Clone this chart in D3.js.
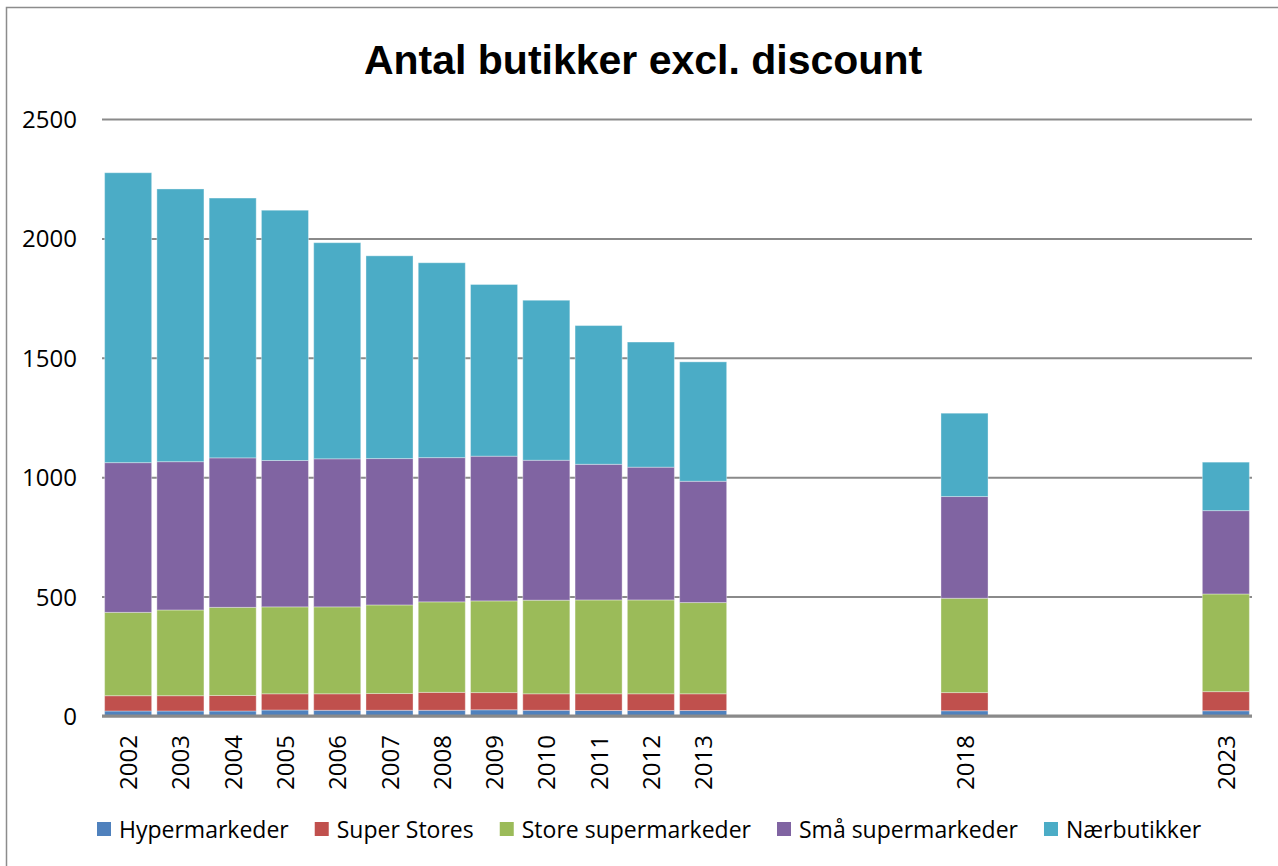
<!DOCTYPE html>
<html>
<head>
<meta charset="utf-8">
<script src="https://cdn.jsdelivr.net/npm/d3@7"></script>
<style>
  body { margin: 0; background: #fff; }
  text { font-family: "Open Sans", "Noto Sans", sans-serif; fill: #000; }
</style>
</head>
<body>
<div id="chart"></div>
<script>
// data
var years = [2002, 2003, 2004, 2005, 2006, 2007, 2008, 2009, 2010, 2011, 2012, 2013, 2018, 2023];
var series = ["Hypermarkeder", "Super Stores", "Store supermarkeder", "Små supermarkeder", "Nærbutikker"];
var hyper = [21, 21, 21, 25, 24, 24, 24, 26, 24, 23, 23, 23, 22, 22];
var superStores = [64, 64, 65, 68, 69, 70, 75, 72, 69, 70, 70, 70, 76, 80];
var storeSuper = [349, 359, 369, 364, 364, 371, 379, 384, 392, 393, 393, 382, 395, 409];
var smaaSuper = [627, 621, 626, 613, 620, 613, 604, 606, 586, 568, 556, 508, 426, 349];
var naer = [1214, 1142, 1088, 1048, 905, 849, 816, 719, 670, 581, 524, 500, 349, 203];
var yTicks = [0, 500, 1000, 1500, 2000, 2500];
var colors = ["#4F81BD", "#C0504D", "#9BBB59", "#8064A2", "#4BACC6"];

var width = 1278, height = 866;
var margin = {left: 102, right: 26, top: 119, bottom: 150};

var svg = d3.select("#chart").append("svg")
  .attr("width", width)
  .attr("height", height);

// outer chart border (runs off the bottom/right)
svg.append("rect")
  .attr("x", 6.5).attr("y", 7.5)
  .attr("width", width + 10).attr("height", height + 10)
  .attr("fill", "none").attr("stroke", "#8c8c8c").attr("stroke-width", 1.5);

svg.append("text")
  .attr("x", 643).attr("y", 74)
  .attr("text-anchor", "middle")
  .style("font-family", "'Liberation Sans', Arial, sans-serif")
  .style("font-weight", "bold")
  .style("font-size", "41px")
  .text("Antal butikker excl. discount");

// build table for stacking
var table = years.map(function(y, i) {
  return {
    year: y,
    "Hypermarkeder": hyper[i],
    "Super Stores": superStores[i],
    "Store supermarkeder": storeSuper[i],
    "Små supermarkeder": smaaSuper[i],
    "Nærbutikker": naer[i]
  };
});
var stacked = d3.stack().keys(series)(table);

var x = d3.scaleLinear()
  .domain([2001.5, 2023.5])
  .range([margin.left, width - margin.right]);
var y = d3.scaleLinear()
  .domain([0, 2500])
  .range([height - margin.bottom, margin.top]);

var barW = (x(2003) - x(2002)) * 0.9;

// gridlines
var yAxis = svg.append("g")
  .attr("transform", "translate(" + margin.left + ",0)")
  .call(d3.axisLeft(y).tickValues(yTicks).tickFormat(d3.format("d"))
    .tickSize(-(width - margin.left - margin.right)).tickPadding(25));
yAxis.select(".domain").remove();
yAxis.selectAll(".tick line").attr("stroke", "#8a8a8a").attr("stroke-width", 2);
yAxis.selectAll(".tick text")
  .style("font-size", "24px")
  .attr("dy", "0.35em");

// bars
var layers = svg.append("g").selectAll("g")
  .data(stacked)
  .enter().append("g")
  .attr("fill", function(d, i) { return colors[i]; });

layers.selectAll("rect")
  .data(function(d) { return d; })
  .enter().append("rect")
  .attr("x", function(d) { return x(d.data.year) - barW / 2; })
  .attr("width", barW)
  .attr("y", function(d) { return y(d[1]); })
  .attr("height", function(d) { return y(d[0]) - y(d[1]); })
  .attr("stroke", "#ffffff")
  .attr("stroke-opacity", 0.35)
  .attr("stroke-width", 1);

// baseline
svg.append("line")
  .attr("x1", margin.left).attr("x2", width - margin.right)
  .attr("y1", y(0)).attr("y2", y(0))
  .attr("stroke", "#8a8a8a").attr("stroke-width", 3);

// x labels, rotated
var xAxis = svg.append("g");
xAxis.selectAll("text")
  .data(years)
  .enter().append("text")
  .attr("transform", function(d) { return "translate(" + (x(d) + 9) + "," + (y(0) + 19) + ") rotate(-90)"; })
  .attr("text-anchor", "end")
  .style("font-size", "24px")
  .text(function(d) { return d; });

// legend
var legend = svg.append("g").attr("transform", "translate(97,838)");
var lx = 0;
series.forEach(function(name, i) {
  legend.append("rect")
    .attr("x", lx).attr("y", -16)
    .attr("width", 14).attr("height", 14)
    .attr("fill", colors[i]);
  var t = legend.append("text")
    .attr("x", lx + 22).attr("y", 0)
    .style("font-size", "23px")
    .text(name);
  lx += 22 + t.node().getComputedTextLength() + 26;
});
</script>
</body>
</html>
